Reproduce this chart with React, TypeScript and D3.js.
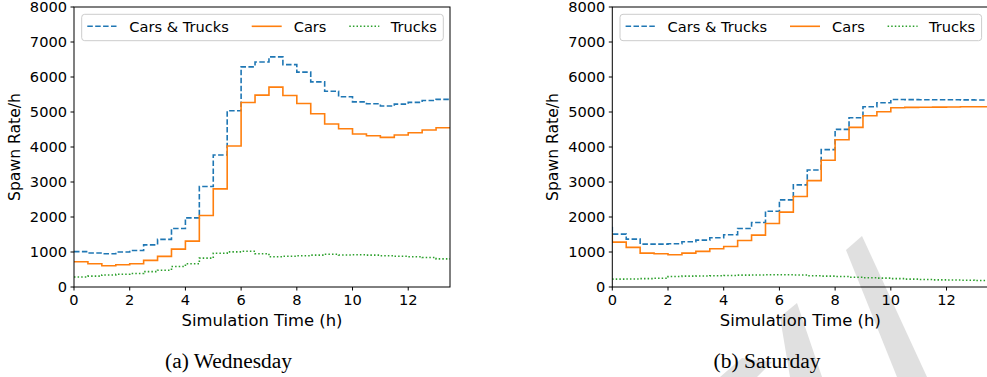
import React from 'react';
import * as d3 from 'd3';

// ---- data ----
const hours = [0, 0.5, 1, 1.5, 2, 2.5, 3, 3.5, 4, 4.5, 5, 5.5, 6, 6.5, 7, 7.5, 8, 8.5, 9, 9.5, 10, 10.5, 11, 11.5, 12, 12.5, 13, 13.5];

const wedBoth = [1010, 1010, 970, 950, 1000, 1045, 1205, 1360, 1670, 1975, 2870, 3770, 5035, 6290, 6430, 6575, 6355, 6140, 5860, 5595, 5435, 5290, 5235, 5170, 5225, 5275, 5330, 5360];
const wedCars = [720, 720, 665, 608, 637, 665, 760, 874, 1083, 1311, 2043, 2803, 4029, 5273, 5482, 5710, 5473, 5245, 4950, 4656, 4523, 4371, 4323, 4276, 4342, 4409, 4485, 4551];
const wedTrucks = [285, 285, 310, 345, 365, 385, 440, 480, 585, 665, 825, 965, 1005, 1020, 950, 865, 880, 895, 910, 935, 915, 920, 910, 895, 880, 865, 845, 805];

const satBoth = [1720, 1510, 1368, 1226, 1226, 1235, 1292, 1340, 1406, 1492, 1672, 1843, 2166, 2489, 2917, 3345, 3924, 4504, 4836, 5150, 5264, 5359, 5355, 5352, 5350, 5348, 5346, 5345];
const satCars = [1540, 1283, 1131, 969, 950, 922, 969, 1017, 1093, 1159, 1330, 1482, 1815, 2138, 2584, 3040, 3620, 4209, 4561, 4893, 5007, 5121, 5131, 5135, 5140, 5145, 5150, 5152];
const satTrucks = [220, 225, 230, 240, 250, 300, 310, 315, 320, 330, 340, 345, 350, 350, 345, 320, 310, 300, 280, 265, 255, 240, 225, 215, 205, 200, 195, 185];

const xTicks = [0, 2, 4, 6, 8, 10, 12];
const yTicks = [0, 1000, 2000, 3000, 4000, 5000, 6000, 7000, 8000];
const seriesNames = ['Cars & Trucks', 'Cars', 'Trucks'];
const captions = ['(a) Wednesday', '(b) Saturday'];

const COLORS = ['#1f77b4', '#ff7f0e', '#2ca02c'];
const DASHES = ['5.5,2.4', null, '1.5,2.1'];
const FONT = '"DejaVu Sans", sans-serif';

type PanelProps = {
  x0: number;
  series: number[][];
  caption: string;
  captionX: number;
  captionLen: number;
  id: string;
};

function Panel({ x0, series, caption, captionX, captionLen, id }: PanelProps) {
  const top = 7;
  const bottom = 287;
  const width = 376;
  const x = d3.scaleLinear().domain([0, 13.5]).range([x0, x0 + width]);
  const y = d3.scaleLinear().domain([0, 8000]).range([bottom, top]);
  const line = d3
    .line<[number, number]>()
    .x((d) => x(d[0]))
    .y((d) => y(d[1]))
    .curve(d3.curveStepBefore);

  const legendItems = [
    { lx: 13.3, tx: 55.3 },
    { lx: 177.7, tx: 219.7 },
    { lx: 275.3, tx: 316.7 },
  ];

  return (
    <g>
      <defs>
        <clipPath id={id}>
          <rect x={x0} y={top} width={width} height={bottom - top} />
        </clipPath>
      </defs>
      <g clipPath={`url(#${id})`}>
        {series.map((vals, si) => (
          <path
            key={si}
            d={line(hours.map((h, i) => [h, vals[i]] as [number, number])) || ''}
            fill="none"
            stroke={COLORS[si]}
            strokeWidth={1.6}
            strokeDasharray={DASHES[si] || undefined}
          />
        ))}
      </g>
      <rect x={x0} y={top} width={width} height={bottom - top} fill="none" stroke="#000" strokeWidth={1} />
      {yTicks.map((t) => (
        <g key={'y' + t}>
          <line x1={x0 - 3.5} x2={x0} y1={y(t)} y2={y(t)} stroke="#000" strokeWidth={1} />
          <text x={x0 - 7} y={y(t) + 5.3} textAnchor="end" fontFamily={FONT} fontSize={14.6} fill="#000">
            {t}
          </text>
        </g>
      ))}
      {xTicks.map((t) => (
        <g key={'x' + t}>
          <line x1={x(t)} x2={x(t)} y1={bottom} y2={bottom + 3.5} stroke="#000" strokeWidth={1} />
          <text x={x(t)} y={305} textAnchor="middle" fontFamily={FONT} fontSize={14.6} fill="#000">
            {t}
          </text>
        </g>
      ))}
      <text x={x(6.75)} y={325.5} textAnchor="middle" fontFamily={FONT} fontSize={16.4} fill="#000">
        Simulation Time (h)
      </text>
      <text
        transform={`translate(${x0 - 54.5},${(top + bottom) / 2}) rotate(-90)`}
        textAnchor="middle"
        fontFamily={FONT}
        fontSize={15.6}
        fill="#000"
      >
        Spawn Rate/h
      </text>
      <rect
        x={x0 + 7.7}
        y={14.3}
        width={361.6}
        height={26.4}
        rx={3}
        fill="#fff"
        fillOpacity={0.8}
        stroke="#cccccc"
        strokeWidth={1}
      />
      {legendItems.map((it, i) => (
        <g key={'l' + i}>
          <line
            x1={x0 + it.lx}
            x2={x0 + it.lx + 30}
            y1={26.3}
            y2={26.3}
            stroke={COLORS[i]}
            strokeWidth={1.6}
            strokeDasharray={DASHES[i] || undefined}
          />
          <text x={x0 + it.tx} y={31.7} fontFamily={FONT} fontSize={14.6} fill="#000">
            {seriesNames[i]}
          </text>
        </g>
      ))}
      <text
        x={captionX}
        y={368}
        textAnchor="middle"
        fontFamily='"Liberation Serif", serif'
        fontSize={20}
        textLength={captionLen}
        lengthAdjust="spacingAndGlyphs"
        fill="#000"
      >
        {caption}
      </text>
    </g>
  );
}

export default function App() {
  return (
    <svg
      width={987}
      height={377}
      style={{ position: 'absolute', left: 0, top: 0, background: '#fff' }}
    >
      <rect x={0} y={0} width={987} height={377} fill="#fff" />
      <g fill="#e0e0e0">
        <polygon points="846,250 862,236 927,377 897,377" />
        <polygon points="780,317 797,303 822,377 790,377" />
        <polygon points="720,377 757,377 772,362 742,358" />
      </g>
      <Panel x0={74} series={[wedBoth, wedCars, wedTrucks]} caption={captions[0]} captionX={228.5} captionLen={127} id="clipA" />
      <Panel x0={612.3} series={[satBoth, satCars, satTrucks]} caption={captions[1]} captionX={767} captionLen={107} id="clipB" />
    </svg>
  );
}
